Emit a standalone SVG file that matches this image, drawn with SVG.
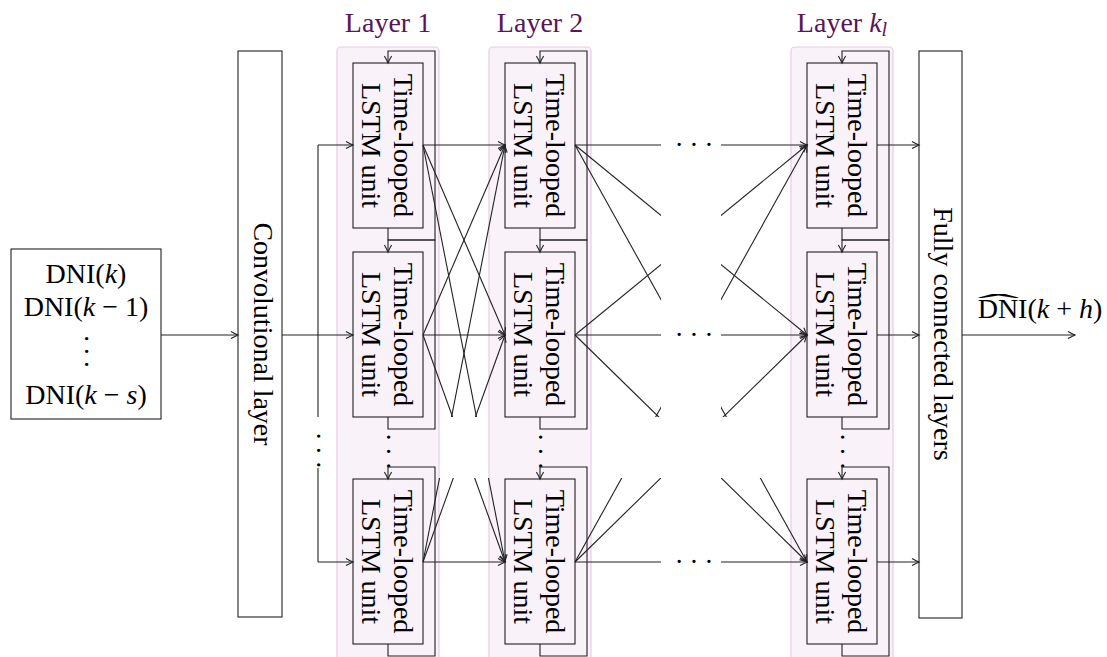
<svg xmlns="http://www.w3.org/2000/svg" width="1107" height="657" viewBox="0 0 1107 657">
<style>
.box{fill:#fff;stroke:#222;stroke-width:1.1}
.unit{fill:none;stroke:#222;stroke-width:1.1}
.col{fill:#f9f2f9;stroke:#e6cce6;stroke-width:1.2}
.ln{fill:none;stroke:#222;stroke-width:1.1}
.t{font-family:"Liberation Serif",serif;font-size:28px;fill:#000}
.lbl{fill:#5a145a}
.dt{font-family:"Liberation Serif",serif;font-size:28px;fill:#000;letter-spacing:5px}
.dt2{font-family:"Liberation Serif",serif;font-size:28px;fill:#000;letter-spacing:3.5px}
</style>
<defs>
<marker id="ah" markerUnits="userSpaceOnUse" markerWidth="12" markerHeight="12" viewBox="-9 -6 12 12" refX="0" refY="0" orient="auto">
<path d="M-7,-3.6 Q-2.5,-1 0,0 Q-2.5,1 -7,3.6" fill="none" stroke="#222" stroke-width="1.1"/>
</marker>
<clipPath id="band">
<rect x="0" y="0" width="661" height="417"/>
<rect x="721" y="0" width="386" height="417"/>
<rect x="0" y="478" width="661" height="179"/>
<rect x="721" y="478" width="386" height="179"/>
</clipPath>
</defs>

<g id="input">
<rect class="box" x="11" y="249" width="150" height="170"/>
<text class="t" x="86" y="283" text-anchor="middle">DNI(<tspan font-style="italic">k</tspan>)</text>
<text class="t" x="86" y="316" text-anchor="middle">DNI(<tspan font-style="italic">k</tspan> − 1)</text>
<text class="dt2" transform="translate(76.5,334) rotate(90)">···</text>
<text class="t" x="86" y="404" text-anchor="middle">DNI(<tspan font-style="italic">k</tspan> − <tspan font-style="italic">s</tspan>)</text>
</g>

<g id="conv">
<rect class="box" x="238" y="51" width="44" height="566"/>
<text class="t" transform="translate(254,334) rotate(90)" text-anchor="middle">Convolutional layer</text>
</g>

<g id="layer1">
<rect class="col" x="337" y="47" width="102" height="630" rx="4"/>
<text class="t lbl" x="388" y="31.5" text-anchor="middle">Layer 1</text>
</g>
<g id="layer2">
<rect class="col" x="489" y="47" width="102" height="630" rx="4"/>
<text class="t lbl" x="540" y="31.5" text-anchor="middle">Layer 2</text>
</g>
<g id="layerk">
<rect class="col" x="791" y="47" width="102" height="630" rx="4"/>
<text class="t lbl" x="842" y="31.5" text-anchor="middle">Layer <tspan font-style="italic">k</tspan><tspan font-style="italic" font-size="20" dy="4">l</tspan></text>
</g>

<g id="l1u1">
<rect class="unit" x="353" y="63" width="70" height="165"/>
<text class="t" transform="translate(394,145.5) rotate(90)" text-anchor="middle">Time-looped</text>
<text class="t" transform="translate(362,145.5) rotate(90)" text-anchor="middle">LSTM unit</text>
<path class="ln" d="M388,228 V240 H435 V51 H388 V63" marker-end="url(#ah)"/>
</g>
<g id="l1u2">
<rect class="unit" x="353" y="252" width="70" height="165"/>
<text class="t" transform="translate(394,334.5) rotate(90)" text-anchor="middle">Time-looped</text>
<text class="t" transform="translate(362,334.5) rotate(90)" text-anchor="middle">LSTM unit</text>
<path class="ln" d="M388,417 V429 H435 V240 H388 V252" marker-end="url(#ah)"/>
</g>
<text class="dt" transform="translate(379,432.5) rotate(90)">···</text>
<g id="l1u3">
<rect class="unit" x="353" y="479" width="70" height="165"/>
<text class="t" transform="translate(394,561.5) rotate(90)" text-anchor="middle">Time-looped</text>
<text class="t" transform="translate(362,561.5) rotate(90)" text-anchor="middle">LSTM unit</text>
<path class="ln" d="M388,644 V656 H435 V467 H388 V479" marker-end="url(#ah)"/>
</g>

<g id="l2u1">
<rect class="unit" x="505" y="63" width="70" height="165"/>
<text class="t" transform="translate(546,145.5) rotate(90)" text-anchor="middle">Time-looped</text>
<text class="t" transform="translate(514,145.5) rotate(90)" text-anchor="middle">LSTM unit</text>
<path class="ln" d="M540,228 V240 H587 V51 H540 V63" marker-end="url(#ah)"/>
</g>
<g id="l2u2">
<rect class="unit" x="505" y="252" width="70" height="165"/>
<text class="t" transform="translate(546,334.5) rotate(90)" text-anchor="middle">Time-looped</text>
<text class="t" transform="translate(514,334.5) rotate(90)" text-anchor="middle">LSTM unit</text>
<path class="ln" d="M540,417 V429 H587 V240 H540 V252" marker-end="url(#ah)"/>
</g>
<text class="dt" transform="translate(531,432.5) rotate(90)">···</text>
<g id="l2u3">
<rect class="unit" x="505" y="479" width="70" height="165"/>
<text class="t" transform="translate(546,561.5) rotate(90)" text-anchor="middle">Time-looped</text>
<text class="t" transform="translate(514,561.5) rotate(90)" text-anchor="middle">LSTM unit</text>
<path class="ln" d="M540,644 V656 H587 V467 H540 V479" marker-end="url(#ah)"/>
</g>

<g id="lku1">
<rect class="unit" x="807" y="63" width="70" height="165"/>
<text class="t" transform="translate(848,145.5) rotate(90)" text-anchor="middle">Time-looped</text>
<text class="t" transform="translate(816,145.5) rotate(90)" text-anchor="middle">LSTM unit</text>
<path class="ln" d="M842,228 V240 H889 V51 H842 V63" marker-end="url(#ah)"/>
</g>
<g id="lku2">
<rect class="unit" x="807" y="252" width="70" height="165"/>
<text class="t" transform="translate(848,334.5) rotate(90)" text-anchor="middle">Time-looped</text>
<text class="t" transform="translate(816,334.5) rotate(90)" text-anchor="middle">LSTM unit</text>
<path class="ln" d="M842,417 V429 H889 V240 H842 V252" marker-end="url(#ah)"/>
</g>
<text class="dt" transform="translate(833,432.5) rotate(90)">···</text>
<g id="lku3">
<rect class="unit" x="807" y="479" width="70" height="165"/>
<text class="t" transform="translate(848,561.5) rotate(90)" text-anchor="middle">Time-looped</text>
<text class="t" transform="translate(816,561.5) rotate(90)" text-anchor="middle">LSTM unit</text>
<path class="ln" d="M842,644 V656 H889 V467 H842 V479" marker-end="url(#ah)"/>
</g>

<g id="fc">
<rect class="box" x="919" y="51" width="43" height="567"/>
<text class="t" transform="translate(934,334) rotate(90)" text-anchor="middle">Fully connected layers</text>
</g>

<g id="output">
<text class="t" transform="translate(998.5,313) scale(4.5,1)" text-anchor="middle">ˆ</text>
<text class="t" x="1040" y="318" text-anchor="middle">DNI(<tspan font-style="italic">k</tspan> + <tspan font-style="italic">h</tspan>)</text>
</g>

<g id="connectors">
<path class="ln" d="M161,335 H238" marker-end="url(#ah)"/>
<path class="ln" d="M282,335 H353" marker-end="url(#ah)"/>
<path class="ln" d="M318,145 V417 M318,468 V562"/>
<path class="ln" d="M318,145 H353" marker-end="url(#ah)"/>
<path class="ln" d="M318,562 H353" marker-end="url(#ah)"/>
<text class="dt" transform="translate(309,431.5) rotate(90)">···</text>
<g clip-path="url(#band)">
<path class="ln" d="M423,145 L505,145" marker-end="url(#ah)"/>
<path class="ln" d="M423,145 L505,335" marker-end="url(#ah)"/>
<path class="ln" d="M423,145 L505,562" marker-end="url(#ah)"/>
<path class="ln" d="M423,335 L505,145" marker-end="url(#ah)"/>
<path class="ln" d="M423,335 L505,335" marker-end="url(#ah)"/>
<path class="ln" d="M423,335 L505,562" marker-end="url(#ah)"/>
<path class="ln" d="M423,562 L505,145" marker-end="url(#ah)"/>
<path class="ln" d="M423,562 L505,335" marker-end="url(#ah)"/>
<path class="ln" d="M423,562 L505,562" marker-end="url(#ah)"/>
<path class="ln" d="M575,145 L807,145" marker-end="url(#ah)"/>
<path class="ln" d="M575,145 L807,335" marker-end="url(#ah)"/>
<path class="ln" d="M575,145 L807,562" marker-end="url(#ah)"/>
<path class="ln" d="M575,335 L807,145" marker-end="url(#ah)"/>
<path class="ln" d="M575,335 L807,335" marker-end="url(#ah)"/>
<path class="ln" d="M575,335 L807,562" marker-end="url(#ah)"/>
<path class="ln" d="M575,562 L807,145" marker-end="url(#ah)"/>
<path class="ln" d="M575,562 L807,335" marker-end="url(#ah)"/>
<path class="ln" d="M575,562 L807,562" marker-end="url(#ah)"/>
</g>
<text class="dt" x="674.5" y="154" style="letter-spacing:5.5px">···</text>
<text class="dt" x="674.5" y="344" style="letter-spacing:5.5px">···</text>
<text class="dt" x="674.5" y="571" style="letter-spacing:5.5px">···</text>
<path class="ln" d="M877,145 H919" marker-end="url(#ah)"/>
<path class="ln" d="M877,335 H919" marker-end="url(#ah)"/>
<path class="ln" d="M877,562 H919" marker-end="url(#ah)"/>
<path class="ln" d="M962,335 H1075" marker-end="url(#ah)"/>
</g>
</svg>
